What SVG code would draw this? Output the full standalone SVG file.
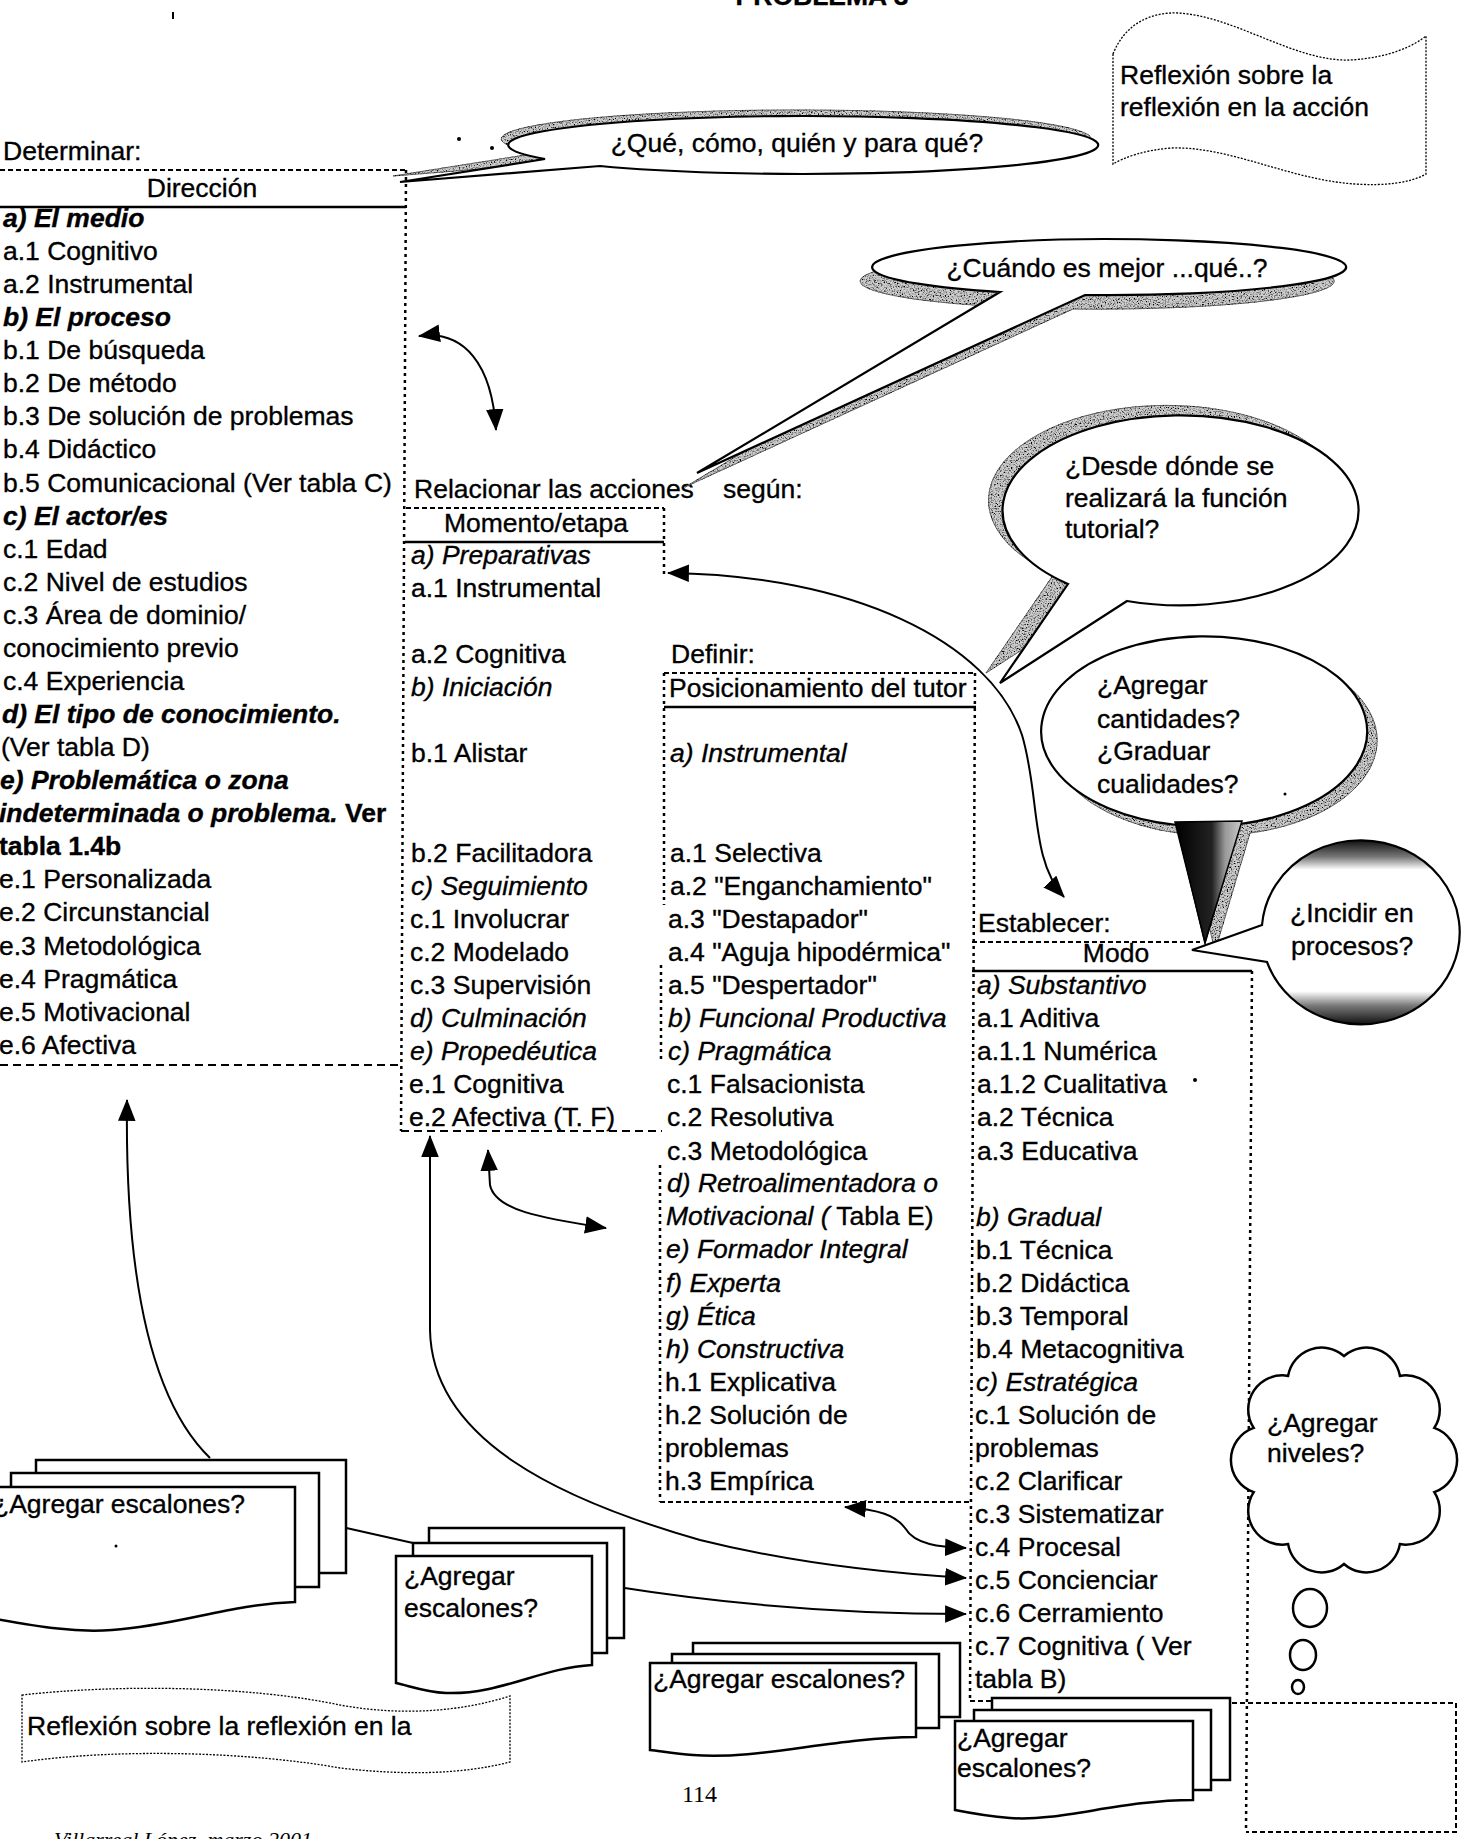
<svg xmlns="http://www.w3.org/2000/svg" width="1469" height="1839" viewBox="0 0 1469 1839">
<style>
.t{font-family:"Liberation Sans",Arial,sans-serif;font-size:26.5px;fill:#000;stroke:#000;stroke-width:0.35}
.i{font-style:italic}
.b{font-weight:bold}
.bi{font-weight:bold;font-style:italic}
.serif{font-family:"Liberation Serif","Times New Roman",serif}
.dash{fill:none;stroke:#000;stroke-width:2;stroke-dasharray:5 3}
.dashL{fill:none;stroke:#000;stroke-width:2;stroke-dasharray:8 5}
.dot{fill:none;stroke:#000;stroke-width:2.5;stroke-dasharray:3 4}
.solid{stroke:#000;stroke-width:2.5}
.conn{fill:none;stroke:#000;stroke-width:2}
.card{fill:#fff;stroke:#000;stroke-width:2.5}
.bubble{fill:#fff;stroke:#000;stroke-width:2.2}
.shadow{fill:#cfcfcf;stroke:#666;stroke-width:1}
.banner{fill:#fff;stroke:#000;stroke-width:1.3;stroke-dasharray:2 1.5}
.thought{fill:#fff;stroke:#000;stroke-width:2.5}
</style>
<defs>
<marker id="ah" viewBox="0 0 20 16" refX="19" refY="8" markerWidth="22" markerHeight="18" markerUnits="userSpaceOnUse" orient="auto-start-reverse">
<path d="M0,0 L20,8 L0,16 Z" fill="#000"/>
</marker>
<filter id="grain" x="-10%" y="-10%" width="120%" height="120%">
<feTurbulence type="fractalNoise" baseFrequency="0.75" numOctaves="2" seed="7" result="noise"/>
<feColorMatrix in="noise" type="matrix" values="0 0 0 0 0 0 0 0 0 0 0 0 0 0 0 3.5 0 0 0 -1.55" result="spots"/>
<feComposite in="spots" in2="SourceAlpha" operator="in" result="clip"/>
<feMerge><feMergeNode in="SourceGraphic"/><feMergeNode in="clip"/></feMerge>
</filter>
<linearGradient id="sphere" x1="0" y1="0" x2="0" y2="1">
<stop offset="0" stop-color="#111"/>
<stop offset="0.09" stop-color="#777"/>
<stop offset="0.16" stop-color="#fff"/>
<stop offset="0.82" stop-color="#fff"/>
<stop offset="0.9" stop-color="#777"/>
<stop offset="1" stop-color="#111"/>
</linearGradient>
<linearGradient id="tailShade" x1="0" y1="0" x2="1" y2="0">
<stop offset="0" stop-color="#000"/>
<stop offset="0.55" stop-color="#222"/>
<stop offset="0.75" stop-color="#999"/>
<stop offset="1" stop-color="#ccc"/>
</linearGradient>
</defs>

<rect x="0" y="0" width="1469" height="1839" fill="#fff"/>

<!-- page heading, clipped by the top edge -->
<text class="t b" x="822" y="5" text-anchor="middle">PROBLEMA 3</text>
<line x1="173" y1="12" x2="173" y2="19" stroke="#000" stroke-width="2"/>

<!-- Dirección column -->
<g id="direccion">
<text class="t" x="3" y="160">Determinar:</text>
<path class="dash" d="M0,170 H406"/>
<text class="t" x="202" y="197" text-anchor="middle">Dirección</text>
<line class="solid" x1="0" y1="207" x2="406" y2="207"/>
<path class="dot" d="M406,170 L401,1131"/>
<path class="dashL" d="M0,1065 H403"/>
<text class="t bi" x="3" y="227">a) El medio</text>
<text class="t" x="3" y="260">a.1 Cognitivo</text>
<text class="t" x="3" y="293">a.2 Instrumental</text>
<text class="t bi" x="3" y="326">b) El proceso</text>
<text class="t" x="3" y="359">b.1 De búsqueda</text>
<text class="t" x="3" y="392">b.2 De método</text>
<text class="t" x="3" y="425">b.3 De solución de problemas</text>
<text class="t" x="3" y="458">b.4 Didáctico</text>
<text class="t" x="3" y="492">b.5 Comunicacional (Ver tabla C)</text>
<text class="t bi" x="3" y="525">c) El actor/es</text>
<text class="t" x="3" y="558">c.1 Edad</text>
<text class="t" x="3" y="591">c.2 Nivel de estudios</text>
<text class="t" x="3" y="624">c.3 Área de dominio/</text>
<text class="t" x="3" y="657">conocimiento previo</text>
<text class="t" x="3" y="690">c.4 Experiencia</text>
<text class="t bi" x="2" y="723">d) El tipo de conocimiento.</text>
<text class="t" x="1" y="756">(Ver tabla D)</text>
<text class="t bi" x="0" y="789">e) Problemática o zona</text>
<text class="t" x="-1" y="822"><tspan class="bi">indeterminada o problema.</tspan><tspan class="b"> Ver</tspan></text>
<text class="t b" x="-1" y="855">tabla 1.4b</text>
<text class="t" x="-1" y="888">e.1 Personalizada</text>
<text class="t" x="-1" y="921">e.2 Circunstancial</text>
<text class="t" x="-1" y="955">e.3 Metodológica</text>
<text class="t" x="-1" y="988">e.4 Pragmática</text>
<text class="t" x="-1" y="1021">e.5 Motivacional</text>
<text class="t" x="-1" y="1054">e.6 Afectiva</text>
</g>

<!-- Momento/etapa column -->
<g id="momento">
<text class="t" x="414" y="498">Relacionar las acciones</text>
<text class="t" x="723" y="498">según:</text>
<path class="dash" d="M406,508 H664"/>
<text class="t" x="536" y="532" text-anchor="middle">Momento/etapa</text>
<line class="solid" x1="405" y1="542" x2="664" y2="542"/>
<path class="dot" d="M664,508 V578"/>
<path class="dashL" d="M401,1131 H662"/>
<text class="t i" x="411" y="564">a) Preparativas</text>
<text class="t" x="411" y="597">a.1 Instrumental</text>
<text class="t" x="411" y="663">a.2 Cognitiva</text>
<text class="t i" x="411" y="696">b) Iniciación</text>
<text class="t" x="411" y="762">b.1 Alistar</text>
<text class="t" x="411" y="862">b.2 Facilitadora</text>
<text class="t i" x="411" y="895">c) Seguimiento</text>
<text class="t" x="410" y="928">c.1 Involucrar</text>
<text class="t" x="410" y="961">c.2 Modelado</text>
<text class="t" x="410" y="994">c.3 Supervisión</text>
<text class="t i" x="410" y="1027">d) Culminación</text>
<text class="t i" x="410" y="1060">e) Propedéutica</text>
<text class="t" x="409" y="1093">e.1 Cognitiva</text>
<text class="t" x="409" y="1126">e.2 Afectiva (T. F)</text>
</g>

<!-- Posicionamiento del tutor column -->
<g id="posicionamiento">
<text class="t" x="671" y="663">Definir:</text>
<path class="dash" d="M664,673 H975"/>
<text class="t" x="669" y="697">Posicionamiento del tutor</text>
<line class="solid" x1="664" y1="707" x2="976" y2="707"/>
<path class="dot" d="M664,673 V905 M661,965 V1062 M660,1165 V1502"/>
<path class="dot" d="M975,673 L970,1700"/>
<path class="dash" d="M660,1502 H970"/>
<text class="t i" x="670" y="762">a) Instrumental</text>
<text class="t" x="670" y="862">a.1 Selectiva</text>
<text class="t" x="670" y="895">a.2 "Enganchamiento"</text>
<text class="t" x="668" y="928">a.3 "Destapador"</text>
<text class="t" x="668" y="961">a.4 "Aguja hipodérmica"</text>
<text class="t" x="668" y="994">a.5 "Despertador"</text>
<text class="t i" x="668" y="1027">b) Funcional Productiva</text>
<text class="t i" x="668" y="1060">c) Pragmática</text>
<text class="t" x="667" y="1093">c.1 Falsacionista</text>
<text class="t" x="667" y="1126">c.2 Resolutiva</text>
<text class="t" x="667" y="1160">c.3 Metodológica</text>
<text class="t i" x="667" y="1192">d) Retroalimentadora o</text>
<text class="t" x="666" y="1225"><tspan class="i">Motivacional (</tspan> Tabla E)</text>
<text class="t i" x="666" y="1258">e) Formador Integral</text>
<text class="t i" x="666" y="1292">f) Experta</text>
<text class="t i" x="666" y="1325">g) Ética</text>
<text class="t i" x="666" y="1358">h) Constructiva</text>
<text class="t" x="665" y="1391">h.1 Explicativa</text>
<text class="t" x="665" y="1424">h.2 Solución de</text>
<text class="t" x="665" y="1457">problemas</text>
<text class="t" x="665" y="1490">h.3 Empírica</text>
</g>

<!-- Modo column -->
<g id="modo">
<text class="t" x="978" y="932">Establecer:</text>
<path class="dash" d="M972,942 H1200"/>
<text class="t" x="1116" y="962" text-anchor="middle">Modo</text>
<line class="solid" x1="972" y1="971" x2="1252" y2="971"/>
<path class="dot" d="M1252,971 L1246,1832"/>
<path class="dash" d="M970,1701 H995"/>
<text class="t i" x="977" y="994">a) Substantivo</text>
<text class="t" x="977" y="1027">a.1 Aditiva</text>
<text class="t" x="977" y="1060">a.1.1 Numérica</text>
<text class="t" x="977" y="1093">a.1.2 Cualitativa</text>
<text class="t" x="977" y="1126">a.2 Técnica</text>
<text class="t" x="977" y="1160">a.3 Educativa</text>
<text class="t i" x="976" y="1226">b) Gradual</text>
<text class="t" x="976" y="1259">b.1 Técnica</text>
<text class="t" x="976" y="1292">b.2 Didáctica</text>
<text class="t" x="976" y="1325">b.3 Temporal</text>
<text class="t" x="976" y="1358">b.4 Metacognitiva</text>
<text class="t i" x="976" y="1391">c) Estratégica</text>
<text class="t" x="975" y="1424">c.1 Solución de</text>
<text class="t" x="975" y="1457">problemas</text>
<text class="t" x="975" y="1490">c.2 Clarificar</text>
<text class="t" x="975" y="1523">c.3 Sistematizar</text>
<text class="t" x="975" y="1556">c.4 Procesal</text>
<text class="t" x="975" y="1589">c.5 Concienciar</text>
<text class="t" x="975" y="1622">c.6 Cerramiento</text>
<text class="t" x="975" y="1655">c.7 Cognitiva ( Ver</text>
<text class="t" x="975" y="1688">tabla B)</text>
</g>

<!-- empty dotted box, lower right -->
<g id="box-empty">
<path class="dash" d="M1232,1703 H1456 V1832 H1246"/>
</g>

<!-- connectors -->
<g id="connectors">
<path class="conn" d="M419,336 C465,330 492,365 496,430" marker-start="url(#ah)" marker-end="url(#ah)"/>
<path class="conn" d="M668,573 C850,575 990,640 1022,735 C1040,795 1030,860 1064,897" marker-start="url(#ah)" marker-end="url(#ah)"/>
<path class="conn" d="M210,1458 C145,1395 125,1260 127,1100" marker-end="url(#ah)"/>
<path class="conn" d="M430,1136 L430,1330 C432,1440 560,1500 700,1540 C800,1565 900,1574 966,1578" marker-start="url(#ah)" marker-end="url(#ah)"/>
<path class="conn" d="M488,1150 L490,1185 C495,1210 540,1218 606,1228" marker-start="url(#ah)" marker-end="url(#ah)"/>
<path class="conn" d="M845,1507 C880,1510 895,1515 905,1528 C915,1545 940,1547 966,1548" marker-start="url(#ah)" marker-end="url(#ah)"/>
<path class="conn" d="M333,1525 L413,1543"/>
<path class="conn" d="M618,1587 C700,1600 820,1614 966,1614" marker-end="url(#ah)"/>
</g>

<!-- callout: ¿Qué, cómo, quién y para qué? -->
<g id="bubble-que">
<circle cx="459" cy="139" r="2"/>
<circle cx="492" cy="148" r="2"/>
<path class="shadow" filter="url(#grain)" transform="translate(-7,-6)" d="M545,159 L400,182 L600,166 A295 29 0 1 0 545,159 Z"/>
<path class="bubble" d="M545,159 L400,182 L600,166 A295 29 0 1 0 545,159 Z"/>
<text class="t" x="797" y="152" text-anchor="middle">¿Qué, cómo, quién y para qué?</text>
</g>

<!-- callout: ¿Cuándo es mejor ...qué..? -->
<g id="bubble-cuando">
<path class="shadow" filter="url(#grain)" transform="translate(-12,14)" d="M1000,292 L697,473 L1085,295 A237 28 0 1 0 1000,292 Z"/>
<path class="bubble" d="M1000,292 L697,473 L1085,295 A237 28 0 1 0 1000,292 Z"/>
<text class="t" x="1107" y="277" text-anchor="middle">¿Cuándo es mejor ...qué..?</text>
</g>

<!-- callout: ¿Desde dónde se realizará la función tutorial? -->
<g id="bubble-desde">
<path class="shadow" filter="url(#grain)" transform="translate(-14,-10)" d="M1068,584 L1000,683 L1127,601 A178 95 0 1 0 1068,584 Z"/>
<path class="bubble" d="M1068,584 L1000,683 L1127,601 A178 95 0 1 0 1068,584 Z"/>
<text class="t" x="1065" y="475">¿Desde dónde se</text>
<text class="t" x="1065" y="507">realizará la función</text>
<text class="t" x="1065" y="538">tutorial?</text>
</g>

<!-- callout: ¿Agregar cantidades? ¿Graduar cualidades? -->
<g id="bubble-cantidades">
<path class="shadow" filter="url(#grain)" transform="translate(10,9)" d="M1177,825 L1205,942 L1240,824 A163 95 0 1 0 1177,825 Z"/>
<path class="bubble" d="M1177,825 L1205,942 L1240,824 A163 95 0 1 0 1177,825 Z"/>
<path d="M1175,822 L1205,942 L1242,821 Z" fill="url(#tailShade)" stroke="#000" stroke-width="1.5"/>
<text class="t" x="1097" y="694">¿Agregar</text>
<text class="t" x="1097" y="728">cantidades?</text>
<text class="t" x="1097" y="760">¿Graduar</text>
<text class="t" x="1097" y="793">cualidades?</text>
<circle cx="1285" cy="794" r="1.5"/>
</g>

<!-- callout: ¿Incidir en procesos? -->
<g id="bubble-incidir">
<path d="M1262,925 L1192,950 L1267,962 A99 92 0 1 0 1262,925 Z" fill="url(#sphere)" stroke="#000" stroke-width="2.2"/>
<text class="t" x="1290" y="922">¿Incidir en</text>
<text class="t" x="1291" y="955">procesos?</text>
</g>
<circle cx="1195" cy="1080" r="2"/>

<!-- thought cloud: ¿Agregar niveles? -->
<g id="cloud-niveles">
<path class="thought" d="M1434.3,1492.1 A34 34 0 0 1 1399.9,1544.1 A34 34 0 0 1 1344,1564 A34 34 0 0 1 1288.1,1544.1 A34 34 0 0 1 1253.7,1492.1 A34 34 0 0 1 1253.7,1427.9 A34 34 0 0 1 1288.1,1375.9 A34 34 0 0 1 1344,1356 A34 34 0 0 1 1399.9,1375.9 A34 34 0 0 1 1434.3,1427.9 A34 34 0 0 1 1434.3,1492.1 Z"/>
<text class="t" x="1267" y="1432">¿Agregar</text>
<text class="t" x="1267" y="1462">niveles?</text>
<ellipse class="thought" cx="1310" cy="1608" rx="17" ry="19"/>
<ellipse class="thought" cx="1303" cy="1655" rx="13" ry="15"/>
<ellipse class="thought" cx="1298" cy="1687" rx="6" ry="7"/>
</g>

<!-- wave banner, top right -->
<g id="banner-top">
<path class="banner" d="M1113,54 C1125,24 1150,12 1178,13 C1235,16 1295,62 1350,60 C1390,58 1415,45 1426,36 V174 C1410,183 1385,186 1355,184 C1290,180 1230,146 1171,148 C1145,150 1125,157 1113,164 Z"/>
<text class="t" x="1120" y="84">Reflexión sobre la</text>
<text class="t" x="1120" y="116">reflexión en la acción</text>
</g>

<!-- wave banner, bottom left -->
<g id="banner-bottom">
<path class="banner" d="M22,1695 C120,1684 250,1686 340,1705 C400,1716 460,1712 510,1696 V1762 C460,1775 400,1775 340,1768 C250,1752 120,1748 22,1762 Z"/>
<text class="t" x="27" y="1735">Reflexión sobre la reflexión en la</text>
</g>

<!-- stacked cards: ¿Agregar escalones? -->
<g id="cards-a">
<rect class="card" x="36" y="1460" width="310" height="113"/>
<rect class="card" x="11" y="1473" width="308" height="114"/>
<path class="card" d="M-10,1487 H295 V1602 C230,1604 180,1625 112,1630 C70,1633 30,1625 -10,1618 Z"/>
<text class="t" x="-7" y="1513">¿Agregar escalones?</text>
<circle cx="116" cy="1546" r="1.5"/>
</g>
<g id="cards-b">
<rect class="card" x="429" y="1528" width="195" height="110"/>
<rect class="card" x="413" y="1543" width="194" height="110"/>
<path class="card" d="M396,1556 H592 V1665 C540,1668 500,1695 446,1693 C425,1692 410,1686 396,1683 Z"/>
<text class="t" x="404" y="1585">¿Agregar</text>
<text class="t" x="404" y="1617">escalones?</text>
</g>
<g id="cards-c">
<rect class="card" x="693" y="1643" width="267" height="74"/>
<rect class="card" x="672" y="1654" width="267" height="74"/>
<path class="card" d="M650,1663 H916 V1737 C830,1738 760,1760 693,1755 C675,1754 660,1751 650,1750 Z"/>
<text class="t" x="653" y="1688">¿Agregar escalones?</text>
</g>
<g id="cards-d">
<rect class="card" x="992" y="1698" width="238" height="82"/>
<rect class="card" x="974" y="1710" width="237" height="80"/>
<path class="card" d="M955,1721 H1193 V1800 C1120,1800 1060,1822 1010,1818 C985,1816 965,1812 955,1810 Z"/>
<text class="t" x="957" y="1747">¿Agregar</text>
<text class="t" x="957" y="1777">escalones?</text>
</g>

<!-- page number and source line -->
<text class="serif" x="682" y="1802" font-size="24">114</text>
<text class="serif" x="54" y="1847" font-size="22" font-style="italic">Villarreal López, marzo 2001</text>
</svg>
